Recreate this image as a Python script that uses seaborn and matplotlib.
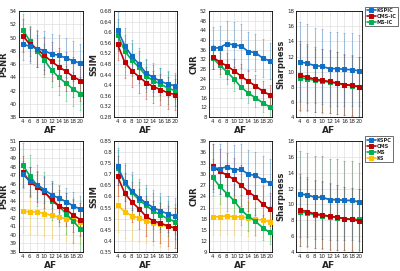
import numpy as np
import pandas as pd
import matplotlib
matplotlib.use('Agg')
from matplotlib import pyplot as plt
import seaborn as sns

af = [4, 6, 8, 10, 12, 14, 16, 18, 20]

# ---- top row: with image combination (IC) ----
top_methods = ['KSPIC', 'CMS-IC', 'MS-IC']
top_psnr = {'KSPIC': [49.0, 48.7, 48.35, 48.05, 47.5, 47.35, 46.9, 46.5, 46.1],
            'CMS-IC': [50.3, 49.0, 48.3, 47.3, 46.4, 45.6, 44.9, 44.1, 43.5],
            'MS-IC': [51.2, 49.5, 48.0, 46.6, 45.1, 44.0, 43.1, 42.2, 41.5]}
top_psnr_sd = {'KSPIC': [2.4, 2.6, 2.8, 2.9, 3.0, 3.0, 3.0, 3.0, 3.0],
               'CMS-IC': [2.5, 2.6, 2.7, 2.8, 2.9, 2.9, 3.0, 3.0, 3.0],
               'MS-IC': [2.3, 2.3, 2.4, 2.5, 2.6, 2.6, 2.6, 2.6, 2.5]}
top_ssim = {'KSPIC': [0.608, 0.55, 0.51, 0.48, 0.445, 0.43, 0.415, 0.405, 0.398],
            'CMS-IC': [0.555, 0.487, 0.455, 0.432, 0.41, 0.395, 0.384, 0.372, 0.365],
            'MS-IC': [0.59, 0.53, 0.495, 0.468, 0.435, 0.418, 0.405, 0.39, 0.38]}
top_ssim_sd = {'KSPIC': [0.07, 0.065, 0.06, 0.06, 0.055, 0.055, 0.05, 0.05, 0.05],
               'CMS-IC': [0.06, 0.06, 0.06, 0.06, 0.06, 0.06, 0.06, 0.06, 0.06],
               'MS-IC': [0.06, 0.06, 0.06, 0.06, 0.06, 0.06, 0.06, 0.06, 0.06]}
top_cnr = {'KSPIC': [36.6, 36.8, 38.5, 38.0, 37.5, 35.2, 34.8, 32.5, 31.3],
           'CMS-IC': [33.0, 30.8, 29.3, 27.2, 25.0, 22.8, 21.0, 18.8, 17.2],
           'MS-IC': [32.6, 29.6, 26.8, 23.8, 20.4, 18.0, 16.0, 14.0, 12.2]}
top_cnr_sd = {'KSPIC': [8.7, 9.0, 9.5, 9.3, 9.0, 8.0, 7.8, 7.8, 7.5],
              'CMS-IC': [5.0, 5.0, 5.3, 5.0, 5.0, 4.8, 4.5, 4.0, 4.0],
              'MS-IC': [4.8, 5.0, 5.0, 4.8, 4.5, 4.3, 4.0, 4.0, 4.0]}
top_sharp = {'KSPIC': [11.3, 11.1, 10.8, 10.7, 10.4, 10.4, 10.3, 10.25, 10.1],
             'CMS-IC': [9.5, 9.3, 9.0, 8.85, 8.7, 8.5, 8.3, 8.2, 8.0],
             'MS-IC': [9.2, 9.05, 8.85, 8.75, 8.6, 8.45, 8.25, 8.15, 8.0]}
top_sharp_sd = {'KSPIC': [5.2, 5.2, 5.0, 5.0, 4.9, 4.9, 4.8, 4.8, 4.7],
                'CMS-IC': [4.5, 4.4, 4.3, 4.2, 4.2, 4.1, 4.0, 4.0, 4.0],
                'MS-IC': [4.4, 4.3, 4.2, 4.2, 4.1, 4.1, 4.0, 3.9, 3.9]}

# ---- bottom row ----
bot_methods = ['KSPC', 'CMS', 'MS', 'KS']
bot_psnr = {'KSPC': [47.1, 46.3, 45.9, 45.3, 44.7, 44.3, 43.9, 43.4, 43.0],
            'CMS': [47.4, 46.2, 45.6, 45.0, 44.2, 43.4, 43.0, 42.3, 41.8],
            'MS': [48.2, 46.9, 45.8, 45.1, 44.0, 43.4, 42.5, 41.6, 40.7],
            'KS': [42.8, 42.7, 42.7, 42.5, 42.3, 42.1, 41.9, 41.8, 41.5]}
bot_psnr_sd = {'KSPC': [1.6, 1.6, 1.6, 1.6, 1.6, 1.6, 1.6, 1.6, 1.6],
               'CMS': [1.8, 1.8, 1.8, 1.8, 1.9, 1.9, 1.9, 1.9, 1.9],
               'MS': [2.5, 2.4, 2.4, 2.3, 2.3, 2.3, 2.4, 2.5, 2.6],
               'KS': [2.6, 2.6, 2.6, 2.6, 2.6, 2.6, 2.6, 2.6, 2.6]}
bot_ssim = {'KSPC': [0.735, 0.665, 0.625, 0.595, 0.57, 0.55, 0.535, 0.522, 0.512],
            'CMS': [0.69, 0.615, 0.575, 0.545, 0.51, 0.49, 0.48, 0.468, 0.458],
            'MS': [0.73, 0.66, 0.618, 0.585, 0.56, 0.535, 0.518, 0.5, 0.487],
            'KS': [0.56, 0.532, 0.513, 0.503, 0.49, 0.48, 0.474, 0.465, 0.46]}
bot_ssim_sd = {'KSPC': [0.085, 0.085, 0.085, 0.085, 0.08, 0.08, 0.08, 0.08, 0.08],
               'CMS': [0.09, 0.09, 0.09, 0.09, 0.09, 0.09, 0.09, 0.09, 0.09],
               'MS': [0.08, 0.08, 0.08, 0.08, 0.08, 0.08, 0.08, 0.08, 0.08],
               'KS': [0.12, 0.12, 0.11, 0.11, 0.1, 0.1, 0.1, 0.1, 0.09]}
bot_cnr = {'KSPC': [31.8, 31.5, 32.0, 31.2, 31.3, 30.0, 29.7, 28.5, 27.7],
           'CMS': [32.1, 30.8, 29.8, 28.6, 27.0, 25.3, 23.9, 22.0, 20.5],
           'MS': [29.2, 26.7, 24.8, 22.9, 20.4, 18.6, 17.3, 15.6, 14.3],
           'KS': [18.5, 18.5, 18.8, 18.5, 18.5, 18.2, 17.9, 17.6, 17.2]}
bot_cnr_sd = {'KSPC': [6.5, 6.8, 7.0, 6.8, 6.8, 6.5, 6.3, 6.3, 6.3],
              'CMS': [6.0, 6.0, 6.0, 5.8, 5.5, 5.3, 5.0, 4.8, 4.5],
              'MS': [5.0, 4.8, 4.6, 4.4, 4.0, 3.8, 3.6, 3.3, 3.0],
              'KS': [5.0, 5.0, 5.0, 5.0, 4.8, 4.8, 4.6, 4.5, 4.5]}
bot_sharp = {'KSPC': [11.3, 11.2, 10.9, 10.9, 10.6, 10.6, 10.5, 10.5, 10.3],
             'CMS': [9.3, 9.1, 8.8, 8.7, 8.5, 8.4, 8.2, 8.1, 7.9],
             'MS': [9.1, 8.9, 8.7, 8.6, 8.45, 8.35, 8.2, 8.15, 8.1],
             'KS': [11.3, 11.2, 10.9, 10.9, 10.6, 10.6, 10.5, 10.5, 10.3]}
bot_sharp_sd = {'KSPC': [5.4, 5.3, 5.2, 5.2, 5.1, 5.1, 5.0, 5.0, 4.9],
                'CMS': [4.5, 4.4, 4.3, 4.2, 4.2, 4.1, 4.0, 4.0, 4.0],
                'MS': [4.4, 4.3, 4.2, 4.2, 4.1, 4.1, 4.0, 3.9, 3.9],
                'KS': [5.4, 5.3, 5.2, 5.2, 5.1, 5.1, 5.0, 5.0, 4.9]}

blue, red, green, yellow = '#0f6fc6', '#c00000', '#00b050', '#ffc000'
top_colors = dict(zip(top_methods, [blue, red, green]))
bot_colors = dict(zip(bot_methods, [blue, red, green, yellow]))

sns.set_style('whitegrid')
plt.rcParams['font.family'] = ['DejaVu Sans']

fig = plt.figure(figsize=(4.0, 2.71), dpi=100)

col_left = [0.0475, 0.285, 0.5225, 0.74]
col_w = [0.16, 0.158, 0.158, 0.165]
row_bottom = [0.568, 0.070]
row_h = [0.391, 0.41]

panels = [
    # row 0
    [(top_psnr, top_psnr_sd, 'PSNR', (38, 54), 2),
     (top_ssim, top_ssim_sd, 'SSIM', (0.28, 0.68), 0.04),
     (top_cnr, top_cnr_sd, 'CNR', (8, 52), 4),
     (top_sharp, top_sharp_sd, 'Sharpness', (4, 18), 2)],
    # row 1
    [(bot_psnr, bot_psnr_sd, 'PSNR', (38, 51), 1),
     (bot_ssim, bot_ssim_sd, 'SSIM', (0.35, 0.85), 0.05),
     (bot_cnr, bot_cnr_sd, 'CNR', (9, 39), 3),
     (bot_sharp, bot_sharp_sd, 'Sharpness', (4, 18), 2)],
]

for r in range(2):
    methods = top_methods if r == 0 else bot_methods
    colors = top_colors if r == 0 else bot_colors
    # draw order: KS first, then MS, CMS, KSPC on top
    draw_order = methods[::-1]
    for c in range(4):
        vals, sds, label, ylim, step = panels[r][c]
        ax = fig.add_axes([col_left[c], row_bottom[r], col_w[c], row_h[r]])
        rows = []
        for m in methods:
            for a, v in zip(af, vals[m]):
                rows.append({'AF': a, 'val': v, 'Method': m})
        df = pd.DataFrame(rows)
        for m in draw_order:
            ax.errorbar(af, vals[m], yerr=sds[m], fmt='none', ecolor=colors[m],
                        alpha=0.35, elinewidth=0.8, capsize=0.8, capthick=0.6, zorder=2)
        for m in draw_order:
            sns.lineplot(data=df[df.Method == m], x='AF', y='val', color=colors[m],
                         marker='s', markersize=3, markeredgecolor=colors[m],
                         linewidth=1.2, ax=ax, label=m, zorder=3)
        ax.set_xlim(3, 20.7)
        ax.set_ylim(*ylim)
        ax.set_xticks(af)
        ax.set_yticks(np.arange(ylim[0], ylim[1] + step / 2, step))
        ax.yaxis.set_major_formatter(plt.FuncFormatter(lambda v, p: f'{round(v, 4):g}'))
        ax.tick_params(labelsize=4, length=1.5, direction='in', pad=1.5, width=0.5)
        ax.grid(True, color='#e0e0e0', linewidth=0.5)
        for s in ax.spines.values():
            s.set_color('black')
            s.set_linewidth(0.6)
        ax.set_xlabel('AF', fontsize=6.5, fontweight='bold', labelpad=1)
        ax.set_ylabel(label, fontsize=6, fontweight='bold', labelpad=1)
        if c == 3:
            h, l = ax.get_legend_handles_labels()
            order = [l.index(m) for m in methods]
            leg = ax.legend([h[i] for i in order], [l[i] for i in order],
                            loc='upper left', bbox_to_anchor=(1.05, 1.04),
                            fontsize=3.6, frameon=True, fancybox=False,
                            handlelength=1.8, handletextpad=0.2, borderpad=0.25,
                            labelspacing=0.2, borderaxespad=0)
            leg.get_frame().set_edgecolor('black')
            leg.get_frame().set_linewidth(0.5)
            for t in leg.get_texts():
                t.set_fontweight('bold')
        else:
            if ax.get_legend() is not None:
                ax.get_legend().remove()

fig.savefig('out.png', dpi=100)
